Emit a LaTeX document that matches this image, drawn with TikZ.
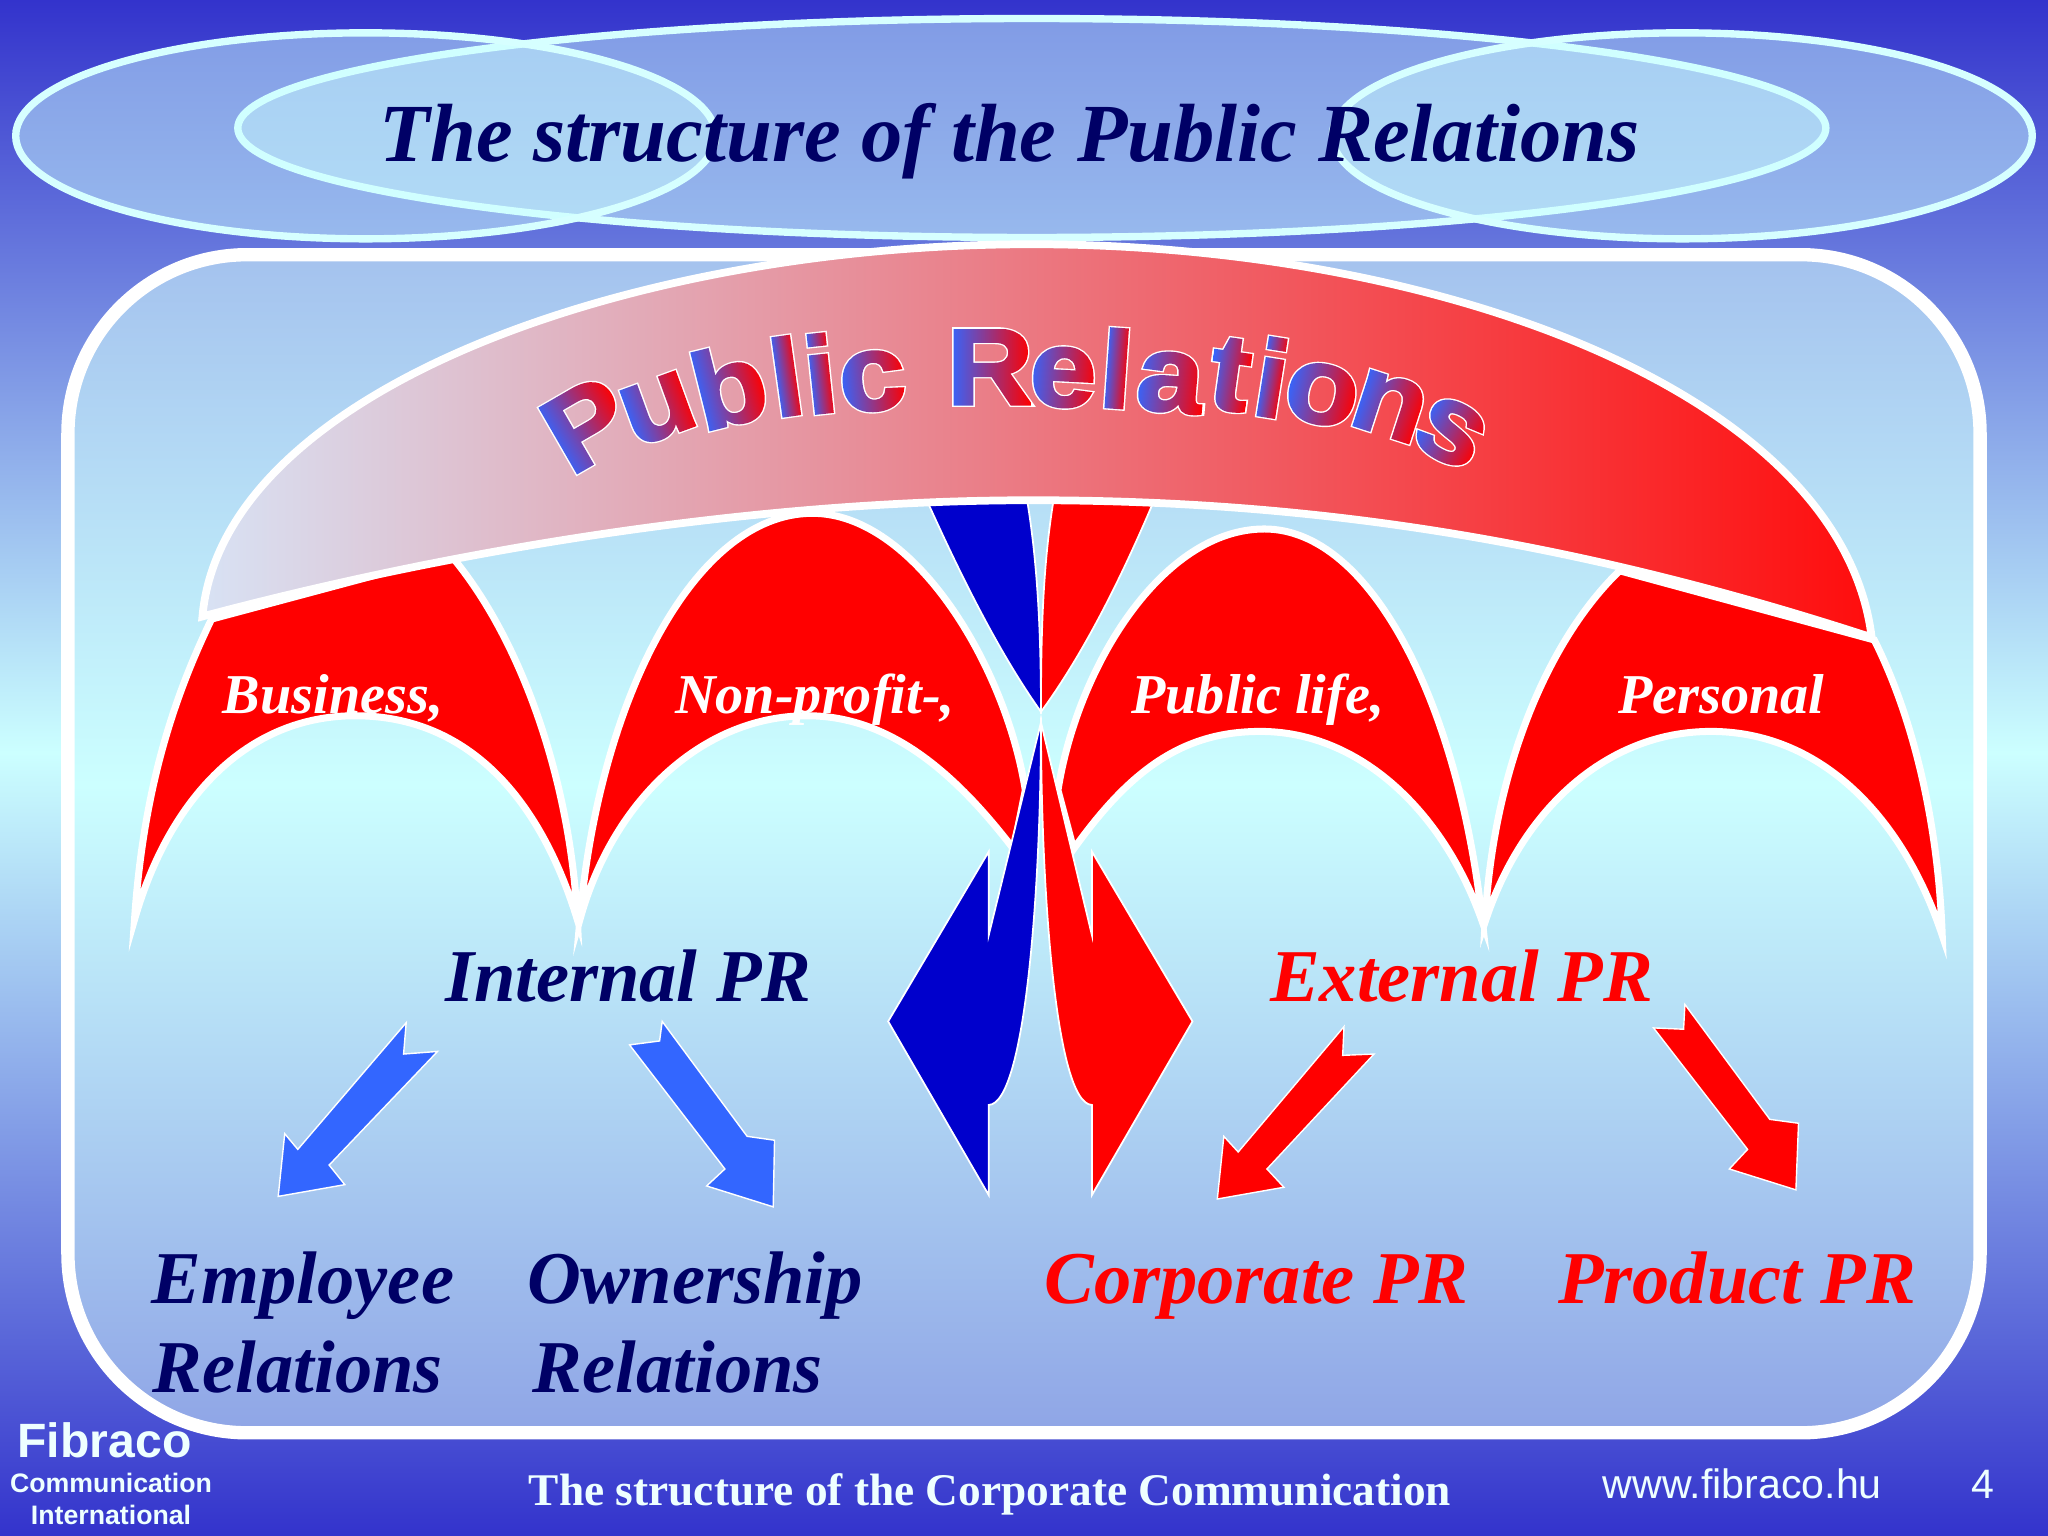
\documentclass[tikz,border=0pt]{standalone}
\usepackage{fontspec}
\setmainfont{Liberation Serif}
\setsansfont{Liberation Sans}
\newfontfamily\wafat[BoldFeatures={FakeBold=4.5}]{Liberation Sans}
\newfontfamily\wamid[BoldFeatures={FakeBold=2}]{Liberation Sans}
\usetikzlibrary{shapes.geometric,fadings}
\definecolor{navyink}{HTML}{000066}
\definecolor{darkblue}{HTML}{0000CC}
\definecolor{arrowblue}{HTML}{3366FF}
\definecolor{paleink}{HTML}{EEFFFF}
\definecolor{slidedark}{HTML}{3333CC}
\definecolor{slidepale}{HTML}{CCFFFF}
\definecolor{panelbot}{HTML}{8FA5E6}
\definecolor{paneltop}{HTML}{A4C2EE}
\definecolor{archpale}{HTML}{D8E2F4}
\definecolor{archmid}{HTML}{E47682}
\pgfdeclareverticalshading{slideshade}{100bp}{color(0bp)=(slidedark);color(25bp)=(slidedark);color(50.5bp)=(slidepale);color(75bp)=(slidedark);color(100bp)=(slidedark)}
\pgfdeclareverticalshading{panelshade}{100bp}{color(0bp)=(panelbot);color(25bp)=(panelbot);color(52.5bp)=(slidepale);color(75bp)=(paneltop);color(100bp)=(paneltop)}
\tikzset{wordart/.style={inner sep=0pt,font=\fontsize{31}{31}\selectfont,xscale=1.1,transform shape}}
\newcommand{\lettermask}[1]{%
\begin{tikzfadingfrompicture}[name=mask#1]
\node[wordart,text=transparent!0] (m#1) at (0,0) {\wamid\bfseries #1};
\end{tikzfadingfrompicture}}
\lettermask{P}\lettermask{u}\lettermask{b}\lettermask{l}\lettermask{i}\lettermask{c}\lettermask{R}
\lettermask{e}\lettermask{a}\lettermask{t}\lettermask{o}\lettermask{n}\lettermask{s}
\newcommand{\arcletter}[6]{%
\begin{scope}[transform canvas={shift={(#1,#2)},rotate=#3}]
\node[wordart,text=white] (#6) at (0,0) {\wafat\bfseries #4};
\shade[left color=arrowblue,right color=red,path fading=mask#4,fit fading=false] (-#5,-50) rectangle (#5,50);
\end{scope}}
\begin{document}
\begin{tikzpicture}[x=0.0130612cm,y=-0.0130612cm,miter limit=30,
  halo/.style={ellipse,draw=paleink!90!cyan,line width=2.1pt,fill=slidepale,fill opacity=0.5,inner sep=0pt},
  dome/.style={draw=white,line width=2pt,fill=red},
  bigarrow/.style={draw=white,line width=0.5pt,line join=miter},
  smallarrow/.style={draw=white,line width=0.4pt,line join=miter}]
\useasboundingbox (0,0) rectangle (1568,1176);
\shade[shading=slideshade] (0,0) rectangle (1568,1176);
% title ellipses
\node[halo,minimum width=15.88cm,minimum height=2.19cm] (eMid) at (790,98) {};
\node[halo,minimum width=7cm,minimum height=2.06cm] (eLeft) at (280,104) {};
\node[halo,minimum width=7cm,minimum height=2.06cm] (eRight) at (1288,104) {};
\node[anchor=base,font=\fontsize{23.5}{24}\selectfont\bfseries\itshape,text=navyink] (title) at (773,124) {The structure of the Public Relations};
% panel
\draw[white,line width=3.8pt,rounded corners=51pt,shading=panelshade] (52,195) rectangle (1516,1097);
% wedges behind the arch
\draw[bigarrow,fill=darkblue] (706,375) -- (785,375) .. controls (795,430) and (797,490) .. (797,545) .. controls (765,500) and (735,440) .. cycle;
\draw[bigarrow,fill=red] (808,375) -- (887,375) .. controls (860,440) and (830,500) .. (797,545) .. controls (797,490) and (798,430) .. cycle;
% domes
\draw[dome] (162,474) -- (345,425) .. controls (400,490) and (437,600) .. (442,704) .. controls (410,600) and (350,548) .. (272,548) .. controls (190,548) and (130,610) .. (103,704) .. controls (110,600) and (135,530) .. cycle;
\draw[dome] (444,704) .. controls (458,540) and (530,393) .. (622,393) .. controls (700,393) and (770,510) .. (785,605) -- (776,650) .. controls (730,590) and (680,548) .. (618,548) .. controls (540,548) and (470,610) .. cycle;
\draw[dome] (1135,706) .. controls (1117,540) and (1050,405) .. (968,405) .. controls (890,405) and (825,510) .. (810,605) -- (822,650) .. controls (865,590) and (905,560) .. (965,560) .. controls (1040,560) and (1105,620) .. cycle;
\draw[dome] (1240,437) -- (1435,490) .. controls (1465,550) and (1484,630) .. (1487,716) .. controls (1455,620) and (1390,560) .. (1310,560) .. controls (1230,560) and (1165,620) .. (1137,706) .. controls (1143,590) and (1185,490) .. cycle;
% arch
\draw[white,line width=2.2pt,line join=miter,left color=archpale,middle color=archmid,right color=red!95!white,shading=axis]
  (155,472) .. controls (170,300) and (480,187) .. (790,187) .. controls (1100,187) and (1410,300) .. (1433,488)
  .. controls (1200,412) and (1000,383) .. (790,383) .. controls (580,383) and (350,420) .. cycle;
% lower big arrows
\draw[bigarrow,fill=darkblue] (757,652) -- (757,716) -- (797,553) .. controls (797,680) and (785,845) .. (757,846) -- (757,915) -- (680,782) -- cycle;
\draw[bigarrow,fill=red] (836,652) -- (836,716) -- (797,553) .. controls (797,680) and (808,845) .. (836,846) -- (836,915) -- (913,782) -- cycle;
% small arrows
\draw[smallarrow,fill=arrowblue] (311,783) -- (309,807) -- (335,805) -- (252,892) -- (264,907) -- (213,916) -- (218,868) -- (228,880) -- cycle;
\draw[smallarrow,fill=arrowblue] (482,800) -- (505,797) -- (507,782) -- (572,870) -- (593,873) -- (592,924) -- (541,908) -- (555,895) -- cycle;
\draw[smallarrow,fill=red] (1029,786) -- (1028,808) -- (1052,807) -- (970,895) -- (983,909) -- (932,918) -- (937,870) -- (948,882) -- cycle;
\draw[smallarrow,fill=red] (1266,787) -- (1289,788) -- (1290,769) -- (1355,857) -- (1377,860) -- (1375,911) -- (1324,895) -- (1338,880) -- cycle;
% arched word
\arcletter{449}{325}{30}{P}{30}{wa1}
\arcletter{504}{313}{20}{u}{26}{wa2}
\arcletter{558}{295}{14}{b}{26}{wa3}
\arcletter{602}{288}{8}{l}{9}{wa4}
\arcletter{628}{286}{6}{i}{9}{wa5}
\arcletter{668}{292}{5}{c}{25}{wa6}
\arcletter{758}{281}{0}{R}{31}{wa7}
\arcletter{814}{289}{-3}{e}{26}{wa8}
\arcletter{855}{282}{-4}{l}{9}{wa9}
\arcletter{896}{293}{-5}{a}{26}{wa10}
\arcletter{942}{287}{-8}{t}{15}{wa11}
\arcletter{974}{289}{-9}{i}{9}{wa12}
\arcletter{1012}{302}{-12}{o}{27}{wa13}
\arcletter{1064}{311}{-18}{n}{25}{wa14}
\arcletter{1111}{331}{-28}{s}{24}{wa15}
% dome labels
\begin{scope}[every node/.style={anchor=base,font=\fontsize{16}{16}\selectfont\bfseries\itshape,text=white}]
\node (tBusiness) at (255,546) {Business,};
\node (tNonprofit) at (624,546) {Non-profit-,};
\node (tPublic) at (963,546) {Public life,};
\node (tPersonal) at (1318,546) {Personal};
\end{scope}
% branch labels
\begin{scope}[every node/.style={anchor=base,font=\fontsize{21.2}{22}\selectfont\bfseries\itshape,text=navyink}]
\node (tInternal) at (481,767) {Internal PR};
\node (tEmployee) at (232,998) {Employee};
\node (tEmployeeB) at (228,1066) {Relations};
\node (tOwner) at (532,998) {Ownership};
\node (tOwnerB) at (519,1066) {Relations};
\node[text=red] (tExternal) at (1119,767) {External PR};
\node[text=red] (tCorporate) at (962,998) {Corporate PR};
\node[text=red] (tProduct) at (1330,998) {Product PR};
\end{scope}
% footer
\begin{scope}[every node/.style={anchor=base,text=paleink}]
\node[font=\sffamily\bfseries\fontsize{13.7}{14}\selectfont] (fFibraco) at (80,1116) {Fibraco};
\node[font=\sffamily\bfseries\fontsize{7.6}{8}\selectfont] (fComm) at (85,1143) {Communication};
\node[font=\sffamily\bfseries\fontsize{7.6}{8}\selectfont] (fInter) at (85,1167) {International};
\node[font=\bfseries\fontsize{12.9}{13}\selectfont] (fStruct) at (758,1153) {The structure of the Corporate Communication};
\node[font=\sffamily\fontsize{11.7}{12}\selectfont] (fWeb) at (1334,1147) {www.fibraco.hu};
\node[font=\sffamily\fontsize{11.7}{12}\selectfont] (fPage) at (1518,1147) {4};
\end{scope}
\end{tikzpicture}
\end{document}
